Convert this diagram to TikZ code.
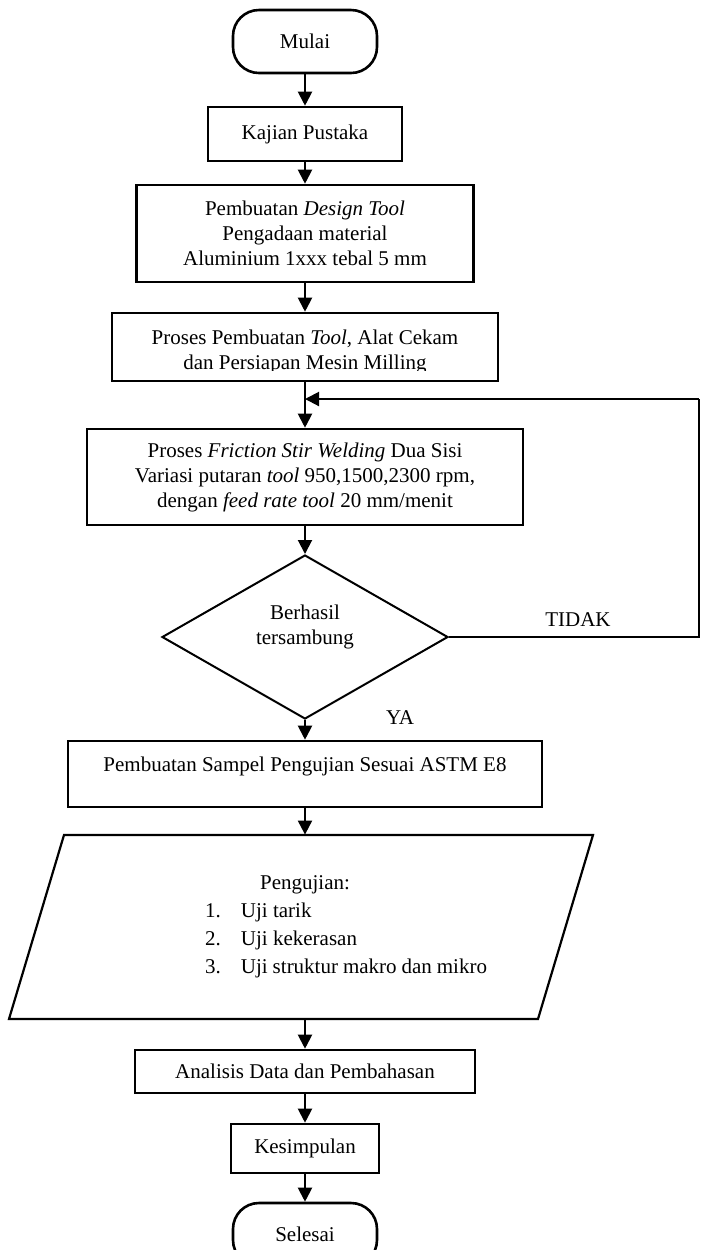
\documentclass[tikz,border=0pt]{standalone}
\usepackage{fontspec}
\setmainfont{Liberation Serif}
\usetikzlibrary{arrows.meta,shapes.geometric}

\begin{document}
\begin{tikzpicture}[x=0.5pt, y=-0.5pt,
		font=\fontsize{10.5}{12.5}\selectfont,
		kotak/.style={draw, line width=1.3pt, align=center, inner sep=2pt},
		terminal/.style={kotak, rounded corners=13pt, minimum width=72pt, minimum height=31.5pt},
		keputusan/.style={draw, diamond, line width=1pt, align=center, inner sep=0pt, aspect=2},
		panah/.style={line width=1pt, -{Triangle[length=7pt, width=7pt]}},
		garis/.style={line width=1pt}]
	\useasboundingbox (0,0) rectangle (701,1250);
	% alur utama
	\node[terminal] (mulai) at (305,41.5) {Mulai};
	\node[kotak, minimum width=97pt, minimum height=27pt] (kajian) at (305,134) {Kajian Pustaka};
	\node[kotak, minimum width=168.5pt, minimum height=48.5pt] (desain) at (305,233.5) {Pembuatan \textit{Design Tool}\\ Pengadaan material\\ Aluminium 1xxx tebal 5 mm};
	\node[kotak, minimum width=193pt, minimum height=34pt] (proses) at (305,347) {};
	\begin{scope}
		\clip (proses.north west) rectangle ([yshift=6pt]proses.south east);
		\node[align=center] (prosesteks) at (305,352) {Proses Pembuatan \textit{Tool}, Alat Cekam\\ dan Persiapan Mesin Milling};
	\end{scope}
	\node[kotak, minimum width=218pt, minimum height=48pt] (fsw) at (305,477) {Proses \textit{Friction Stir Welding} Dua Sisi\\ Variasi putaran \textit{tool} 950,1500,2300 rpm,\\ dengan \textit{feed rate tool} 20 mm/menit};
	\node[keputusan, minimum width=143pt, minimum height=82pt, text depth=12pt] (cek) at (305,637) {Berhasil\\ tersambung};
	\node[kotak, minimum width=237pt, minimum height=33pt, text depth=10pt] (sampel) at (305,774) {Pembuatan Sampel Pengujian Sesuai ASTM E8};
	\node[minimum height=92pt, inner sep=0pt] (uji) at (305,927) {\parbox{182pt}{\baselineskip=14pt\centering Pengujian:\par\raggedright
		\hspace*{41pt}\makebox[18pt][l]{1.}Uji tarik\par
		\hspace*{41pt}\makebox[18pt][l]{2.}Uji kekerasan\par
		\hspace*{41pt}\makebox[18pt][l]{3.}Uji struktur makro dan mikro}};
	\draw[line width=1.1pt] (64,835) -- (593,835) -- (538,1019) -- (9,1019) -- cycle;
	\node[kotak, minimum width=170pt, minimum height=21.5pt] (analisis) at (305,1071.5) {Analisis Data dan Pembahasan};
	\node[kotak, minimum width=74pt, minimum height=24.5pt] (simpul) at (305,1148.5) {Kesimpulan};
	\node[terminal] (selesai) at (305,1234.5) {Selesai};
	% label keputusan
	\node (tidak) at (578,620) {TIDAK};
	\node (ya) at (400,718) {YA};
	% panah
	\draw[panah] (mulai) -- (kajian);
	\draw[panah] (kajian) -- (desain);
	\draw[panah] (desain) -- (proses);
	\draw[panah] (proses) -- (fsw);
	\draw[panah] (fsw) -- (cek);
	\draw[panah] (cek) -- (sampel);
	\draw[panah] (sampel) -- (uji);
	\draw[panah] (uji) -- (analisis);
	\draw[panah] (analisis) -- (simpul);
	\draw[panah] (simpul) -- (selesai);
	% umpan balik
	\coordinate (balik) at (305,399);
	\coordinate (ujung) at (699,637);
	\draw[garis] (cek.east) -- (ujung) -- (ujung |- balik);
	\draw[panah] (ujung |- balik) -- (balik);
\end{tikzpicture}
\end{document}
